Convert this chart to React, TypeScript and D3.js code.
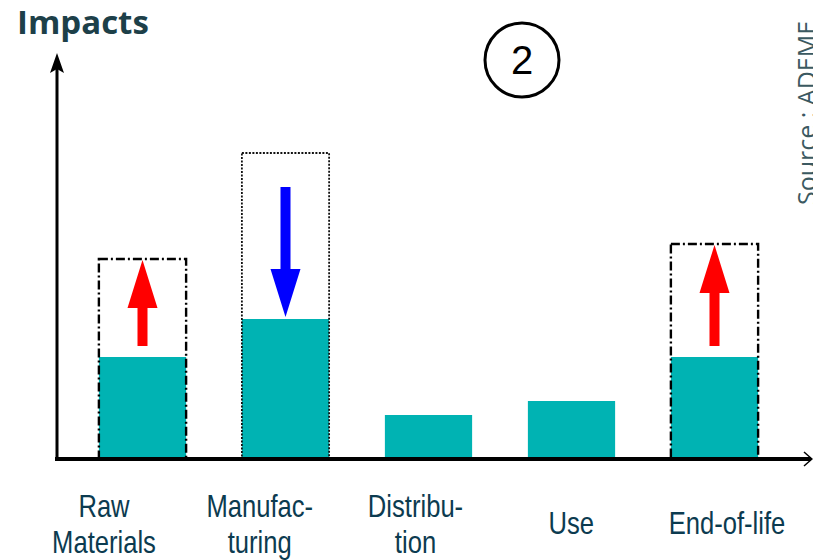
import React from "react";
import * as d3 from "d3";

// Life-cycle stages and their impacts (arbitrary units, 0–100)
const stages = ["Raw Materials", "Manufacturing", "Distribution", "Use", "End-of-life"];
const stageLabelLines = [
  ["Raw", "Materials"],
  ["Manufac-", "turing"],
  ["Distribu-", "tion"],
  ["Use"],
  ["End-of-life"],
];
const currentImpacts = [25.5, 35, 11, 14.5, 25.5];
const shiftedImpacts = [50, 76.5, null, null, 53.75];
const shiftDirection = ["up", "down", null, null, "up"];

const W = 813;
const H = 560;
const TEAL = "#00b3b3";
const LABEL = "#0c3b50";

function Arrow({ x, y0, y1, color }: { x: number; y0: number; y1: number; color: string }) {
  // y0 = tail, y1 = tip
  const dir = y1 < y0 ? -1 : 1;
  const headLen = 48;
  const headHalf = 15;
  const shaftHalf = 5;
  const headBase = y1 - dir * headLen;
  const pts = [
    [x - shaftHalf, y0],
    [x - shaftHalf, headBase],
    [x - headHalf, headBase],
    [x, y1],
    [x + headHalf, headBase],
    [x + shaftHalf, headBase],
    [x + shaftHalf, y0],
  ];
  return <polygon points={pts.map((p) => p.join(",")).join(" ")} fill={color} />;
}

export default function App() {
  const baseY = 459;
  const y = d3.scaleLinear().domain([0, 100]).range([baseY, 59]);
  const x = d3
    .scaleBand<string>()
    .domain(stages)
    .range([71, 786])
    .paddingInner(0.39)
    .paddingOuter(0.195);
  const labelX = d3.scalePoint<string>().domain(stages).range([104, 727]);
  const axisX = 57;

  return (
    <svg width={W} height={H} style={{ position: "absolute", left: 0, top: 0, background: "#fff" }}>
      {/* title */}
      <text
        x={17}
        y={34}
        fontFamily="'Open Sans', sans-serif"
        fontWeight={700}
        fontSize={33}
        fill="#1d4049"
      >
        Impacts
      </text>

      {/* scenario marker */}
      <circle cx={522} cy={60} r={37} fill="none" stroke="#000" strokeWidth={3} />
      <text
        x={522}
        y={74}
        textAnchor="middle"
        fontFamily="'Liberation Sans', Arial, sans-serif"
        fontSize={40}
        fill="#000"
      >
        2
      </text>

      {/* source note */}
      <text
        transform="translate(816,205) rotate(-90)"
        fontFamily="'Open Sans', sans-serif"
        fontSize={25}
        fill="#3b5961"
      >
        Source : ADEME
      </text>

      {/* bars */}
      {stages.map((s, i) => (
        <rect
          key={s}
          x={x(s)}
          y={y(currentImpacts[i])}
          width={x.bandwidth()}
          height={baseY - y(currentImpacts[i])}
          fill={TEAL}
        />
      ))}

      {/* shifted impact outlines */}
      {stages.map((s, i) => {
        const v = shiftedImpacts[i];
        if (v == null) return null;
        const up = shiftDirection[i] === "up";
        return (
          <rect
            key={"b" + s}
            x={x(s)}
            y={y(v)}
            width={x.bandwidth()}
            height={baseY - y(v)}
            fill="none"
            stroke={up ? "#000" : "#111"}
            strokeWidth={up ? 2.4 : 1.8}
            strokeDasharray={up ? "9,3,2,3" : "2,1.5"}
          />
        );
      })}

      {/* shift arrows */}
      {stages.map((s, i) => {
        const v = shiftedImpacts[i];
        if (v == null) return null;
        const cx = (x(s) as number) + x.bandwidth() / 2;
        if (shiftDirection[i] === "up") {
          return <Arrow key={"a" + s} x={cx} y0={y(currentImpacts[i]) - 11} y1={y(v) + 1} color="#ff0000" />;
        }
        return <Arrow key={"a" + s} x={cx} y0={y(v) + 34} y1={y(currentImpacts[i]) - 2} color="#0000ff" />;
      })}

      {/* axes */}
      <line x1={axisX} y1={baseY + 2} x2={axisX} y2={68} stroke="#000" strokeWidth={3} />
      <path d={`M${axisX},53 L${axisX + 7},73 L${axisX},69 L${axisX - 7},73 Z`} fill="#000" />
      <line x1={axisX - 2} y1={baseY} x2={811} y2={baseY} stroke="#000" strokeWidth={4} />
      <path d={`M804,452 L812,459 L804,466`} fill="none" stroke="#000" strokeWidth={1.5} />

      {/* stage labels */}
      {stages.map((s, i) => {
        const lines = stageLabelLines[i];
        const cx = labelX(s) as number;
        const startY = lines.length === 1 ? 534 : 517;
        return lines.map((ln, j) => (
          <text
            key={s + j}
            transform={`translate(${cx},${startY + j * 36}) scale(0.8,1)`}
            textAnchor="middle"
            fontFamily="'Liberation Sans', Arial, sans-serif"
            fontSize={32}
            fill={LABEL}
          >
            {ln}
          </text>
        ));
      })}
    </svg>
  );
}
